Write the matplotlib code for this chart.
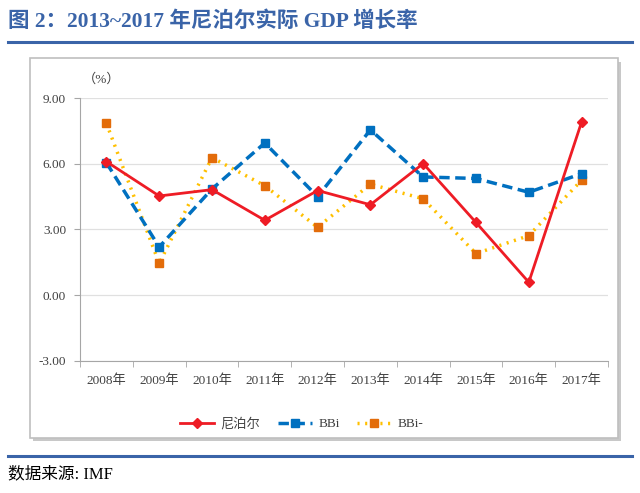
import matplotlib.pyplot as plt
from matplotlib.patches import Rectangle
from matplotlib.lines import Line2D

plt.rcParams['font.family'] = ['Liberation Serif', 'Noto Sans CJK SC']

years = ['2008年', '2009年', '2010年', '2011年', '2012年',
         '2013年', '2014年', '2015年', '2016年', '2017年']
nepal = [6.10, 4.53, 4.82, 3.42, 4.78, 4.13, 6.01, 3.32, 0.59, 7.91]
bbi = [6.05, 2.20, 4.85, 6.95, 4.50, 7.55, 5.40, 5.33, 4.70, 5.55]
bbi_minus = [7.85, 1.45, 6.28, 5.00, 3.10, 5.07, 4.40, 1.90, 2.72, 5.25]
yticks = [-3, 0, 3, 6, 9]

title_blue = '#3A64A8'
red = '#EE1C25'
blue = '#0070C0'
yellow = '#FFC000'
orange = '#E36C0A'

fig = plt.figure(figsize=(6.4, 4.93), dpi=100)

# 标题和分隔线
fig.text(0.013, 0.955, '图 2：2013~2017 年尼泊尔实际 GDP 增长率', fontsize=15.5,
         fontweight='bold', color=title_blue, va='center', ha='left')
fig.add_artist(Line2D([0.012, 0.988], [0.914, 0.914], color=title_blue, lw=2.2,
                      transform=fig.transFigure))
fig.add_artist(Line2D([0.012, 0.988], [0.075, 0.075], color=title_blue, lw=2.2,
                      transform=fig.transFigure))
fig.text(0.013, 0.037, '数据来源: IMF', fontsize=12, color='black', va='center',
         ha='left')

# 图表外框 (带阴影)
fig.add_artist(Rectangle((0.052, 0.105), 0.918, 0.77, transform=fig.transFigure,
                         facecolor='#C8C8C8', edgecolor='none', zorder=-2))
fig.add_artist(Rectangle((0.047, 0.112), 0.918, 0.77, transform=fig.transFigure,
                         facecolor='white', edgecolor='#BFBFBF', lw=1.2, zorder=-1))

ax = fig.add_axes([0.125, 0.268, 0.825, 0.533])
ax.patch.set_alpha(0)
x = list(range(len(years)))

ax.plot(x, nepal, color=red, lw=2, marker='D', ms=5, label='尼泊尔', zorder=3)
ax.plot(x, bbi, color=blue, lw=2.5, ls=(0, (3, 1.6)), marker='s', ms=6,
        label='BBi', zorder=2)
ax.plot(x, bbi_minus, color=yellow, lw=2.5, ls=(0, (0.6, 1.6)),
        marker='s', ms=6, mfc=orange, mec=orange, label='BBi-', zorder=1)

ax.set_xlim(-0.5, len(years) - 0.5)
ax.set_ylim(-3, 9)
ax.set_yticks(yticks)
ax.set_yticklabels([f'{v:.2f}' for v in yticks], fontsize=9.5, color='#404040')
ax.set_xticks(x)
ax.set_xticklabels(years, fontsize=9.5, color='#404040')
ax.set_xticks([i - 0.5 for i in range(len(years) + 1)], minor=True)
ax.tick_params(axis='x', which='major', length=0, pad=10)
ax.tick_params(axis='x', which='minor', length=4, color='#A6A6A6')
ax.tick_params(axis='y', length=4, color='#A6A6A6', pad=6)
ax.grid(axis='y', color='#E0E0E0', lw=0.9)
ax.set_axisbelow(True)
for side in ['top', 'right']:
    ax.spines[side].set_visible(False)
for side in ['left', 'bottom']:
    ax.spines[side].set_color('#A6A6A6')

ax.text(0.005, 1.07, '（%）', transform=ax.transAxes, fontsize=9.5, color='#404040',
        ha='left', va='center')

ax.legend(loc='center', bbox_to_anchor=(0.42, -0.24), ncol=3, frameon=False,
          fontsize=9.5, handlelength=2.6, handletextpad=0.5, columnspacing=1.3,
          labelcolor='#404040')

fig.savefig('out.png', dpi=100)
